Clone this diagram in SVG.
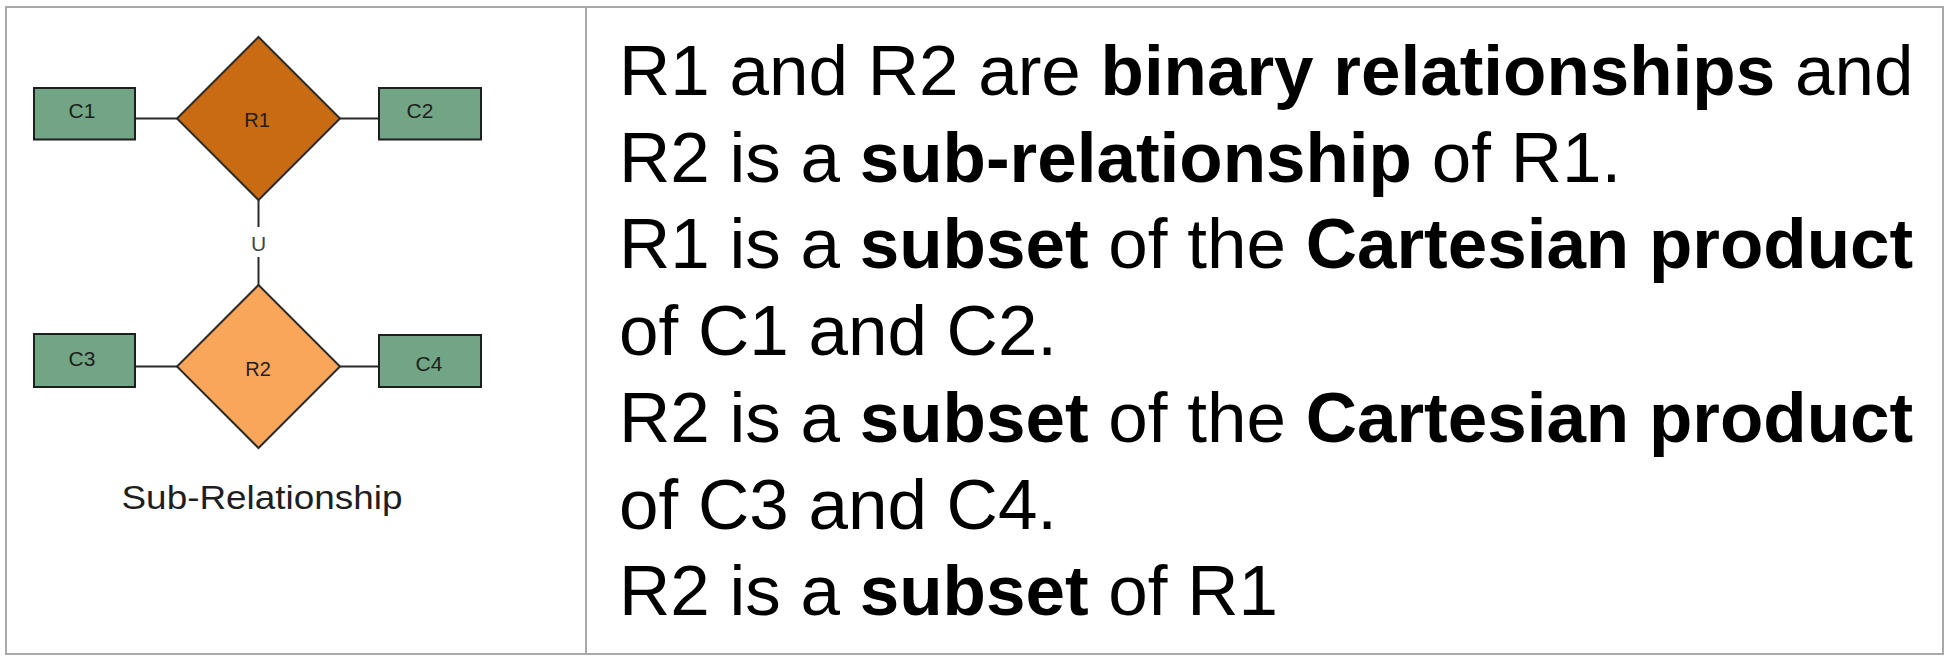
<svg xmlns="http://www.w3.org/2000/svg" width="1952" height="660" viewBox="0 0 1952 660">
<style>
.frame{fill:none;stroke:#a9a9a9;stroke-width:2}
.ent{fill:#72a585;stroke:#1e1e1e;stroke-width:2}
.rel1{fill:#c96b12;stroke:#2a2a2a;stroke-width:2}
.rel2{fill:#f9a65a;stroke:#2a2a2a;stroke-width:2}
.lbl{font-family:"Liberation Sans",Arial,sans-serif;font-size:21px;fill:#1e1e1e;text-anchor:middle}
.conn{stroke:#2a2a2a;stroke-width:2;fill:none}
.body{font-family:"Liberation Sans",Arial,sans-serif;font-size:71px;fill:#000}
.b{font-weight:bold}
</style>
<rect class="frame" x="6" y="7" width="1937" height="647"/>
<line class="frame" x1="586" y1="7" x2="586" y2="654"/>

<g id="connectors">
<line class="conn" x1="135" y1="118.5" x2="177" y2="118.5"/>
<line class="conn" x1="340" y1="118.5" x2="379" y2="118.5"/>
<line class="conn" x1="135" y1="366.5" x2="177" y2="366.5"/>
<line class="conn" x1="340" y1="366.5" x2="379" y2="366.5"/>
<line class="conn" x1="258.5" y1="200" x2="258.5" y2="227"/>
<line class="conn" x1="258.5" y1="257" x2="258.5" y2="285"/>
<text class="lbl" x="258.5" y="251" style="fill:#444">U</text>
</g>

<g id="C1">
<rect class="ent" x="34" y="88" width="101" height="51.5"/>
<text class="lbl" x="82" y="118">C1</text>
</g>
<g id="C2">
<rect class="ent" x="379" y="88" width="102" height="51.5"/>
<text class="lbl" x="420" y="118">C2</text>
</g>
<g id="R1">
<polygon class="rel1" points="258.5,37 340,118.5 258.5,200 177,118.5"/>
<text class="lbl" x="257" y="127" style="font-size:20px">R1</text>
</g>
<g id="C3">
<rect class="ent" x="34" y="334" width="101" height="53"/>
<text class="lbl" x="82" y="366">C3</text>
</g>
<g id="C4">
<rect class="ent" x="379" y="335" width="102" height="52"/>
<text class="lbl" x="429" y="371">C4</text>
</g>
<g id="R2">
<polygon class="rel2" points="258.5,285 340,366.5 258.5,448 177,366.5"/>
<text class="lbl" x="258" y="376" style="font-size:20px">R2</text>
</g>
<g id="caption">
<text x="262" y="509" style="font-family:'Liberation Sans',Arial,sans-serif;font-size:34px;fill:#1e1e1e;text-anchor:middle" textLength="281" lengthAdjust="spacingAndGlyphs">Sub-Relationship</text>
</g>

<g id="description" class="body">
<text x="619" y="95">R1 and R2 are <tspan class="b">binary relationships</tspan> and</text>
<text x="619" y="181.7">R2 is a <tspan class="b">sub-relationship</tspan> of R1.</text>
<text x="619" y="268.4">R1 is a <tspan class="b">subset</tspan> of the <tspan class="b">Cartesian product</tspan></text>
<text x="619" y="355">of C1 and C2.</text>
<text x="619" y="441.8">R2 is a <tspan class="b">subset</tspan> of the <tspan class="b">Cartesian product</tspan></text>
<text x="619" y="528.5">of C3 and C4.</text>
<text x="619" y="615.2">R2 is a <tspan class="b">subset</tspan> of R1</text>
</g>
</svg>
